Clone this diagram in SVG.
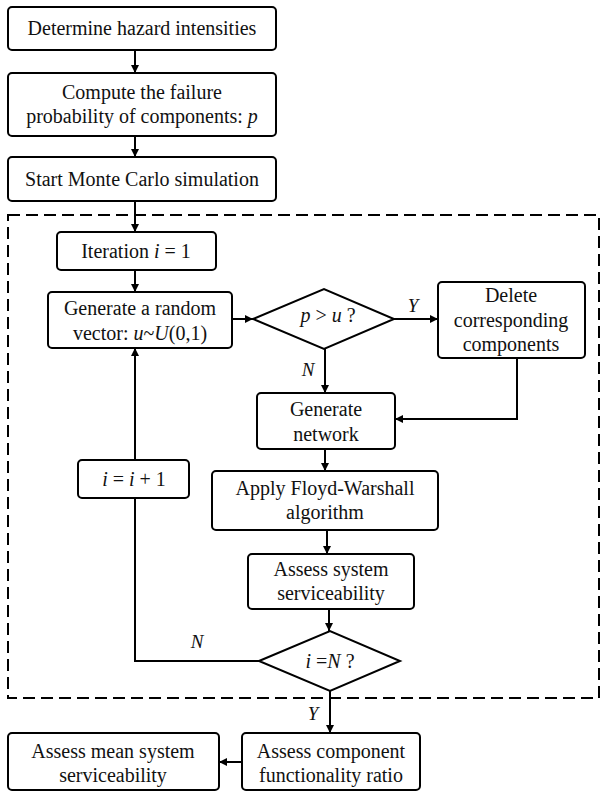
<svg xmlns="http://www.w3.org/2000/svg" width="601" height="793" viewBox="0 0 601 793" font-family="'Liberation Serif', 'DejaVu Serif', serif">
<defs>
<marker id="ah" viewBox="0 0 10 10" refX="10" refY="5" markerWidth="8" markerHeight="8" markerUnits="userSpaceOnUse" orient="auto">
<path d="M0,0 L10,5 L0,10 z" fill="#000"/>
</marker>
<style>
.b{fill:#fff;stroke:#000;stroke-width:2}
.t{font-family:'Liberation Serif','DejaVu Serif',serif;font-size:20px;fill:#111;text-anchor:middle}
.m{font-style:italic}
.l{font-family:'Liberation Serif','DejaVu Serif',serif;font-size:19px;font-style:italic;fill:#111;text-anchor:middle}
.c{fill:none;stroke:#000;stroke-width:2}
.a{marker-end:url(#ah)}
.d{fill:none;stroke:#000;stroke-width:2;stroke-dasharray:12,6}
</style>
</defs>
<rect class="d" x="8" y="215" width="591" height="483"/>
<g id="connectors">
<path class="c a" d="M135,50 V73"/>
<path class="c a" d="M135,136 V157"/>
<path class="c a" d="M135,201 V232"/>
<path class="c a" d="M135,270 V292"/>
<path class="c a" d="M232,319 H253"/>
<path class="c a" d="M394,319 H438"/>
<path class="c a" d="M325,349 V393"/>
<path class="c a" d="M517,358 V419 H395"/>
<path class="c a" d="M325,449 V471"/>
<path class="c a" d="M327,530 V554"/>
<path class="c a" d="M329,609 V631"/>
<path class="c" d="M259,661 H135 V498"/>
<path class="c a" d="M135,460 V348"/>
<path class="c a" d="M330,691 V733"/>
<path class="c a" d="M242,762 H219"/>
<text class="l" x="413" y="312">Y</text>
<text class="l" x="308" y="376">N</text>
<text class="l" x="197" y="648">N</text>
<text class="l" x="313" y="720">Y</text>
</g>
<g id="hazard">
<rect class="b" x="8" y="7" width="268" height="43" rx="4"/>
<text class="t" x="142" y="35">Determine hazard intensities</text>
</g>
<g id="failure">
<rect class="b" x="8" y="73" width="268" height="63" rx="4"/>
<text class="t" x="142" y="99">Compute the failure</text>
<text class="t" x="142" y="123">probability of components: <tspan class="m">p</tspan></text>
</g>
<g id="montecarlo">
<rect class="b" x="8" y="157" width="268" height="44" rx="4"/>
<text class="t" x="142" y="186">Start Monte Carlo simulation</text>
</g>
<g id="iteration">
<rect class="b" x="57" y="232" width="159" height="38" rx="4"/>
<text class="t" x="136" y="258">Iteration <tspan class="m">i</tspan> = 1</text>
</g>
<g id="random">
<rect class="b" x="48" y="292" width="184" height="56" rx="4"/>
<text class="t" x="140" y="315">Generate a random</text>
<text class="t" x="140" y="340">vector: <tspan class="m">u</tspan>~<tspan class="m">U</tspan>(0,1)</text>
</g>
<g id="decision1">
<polygon class="b" points="253,319 324,289 394,319 324,349"/>
<text class="t" x="328" y="322"><tspan class="m">p</tspan> &gt; <tspan class="m">u</tspan> ?</text>
</g>
<g id="delete">
<rect class="b" x="438" y="282" width="147" height="76" rx="4"/>
<text class="t" x="511" y="302">Delete</text>
<text class="t" x="511" y="327">corresponding</text>
<text class="t" x="511" y="351">components</text>
</g>
<g id="network">
<rect class="b" x="257" y="393" width="138" height="56" rx="4"/>
<text class="t" x="326" y="416">Generate</text>
<text class="t" x="326" y="441">network</text>
</g>
<g id="floyd">
<rect class="b" x="212" y="471" width="226" height="59" rx="4"/>
<text class="t" x="325" y="495">Apply Floyd-Warshall</text>
<text class="t" x="325" y="519">algorithm</text>
</g>
<g id="assess">
<rect class="b" x="248" y="554" width="166" height="55" rx="4"/>
<text class="t" x="331" y="576">Assess system</text>
<text class="t" x="331" y="600">serviceability</text>
</g>
<g id="decision2">
<polygon class="b" points="259,661 330,631 400,661 330,691"/>
<text class="t" x="330" y="668"><tspan class="m">i</tspan> =<tspan class="m">N</tspan> ?</text>
</g>
<g id="increment">
<rect class="b" x="78" y="460" width="111" height="38" rx="4"/>
<text class="t" x="134" y="486"><tspan class="m">i</tspan> = <tspan class="m">i</tspan> + 1</text>
</g>
<g id="component">
<rect class="b" x="242" y="733" width="178" height="57" rx="4"/>
<text class="t" x="331" y="758">Assess component</text>
<text class="t" x="331" y="782">functionality ratio</text>
</g>
<g id="mean">
<rect class="b" x="8" y="733" width="211" height="57" rx="4"/>
<text class="t" x="113" y="758">Assess mean system</text>
<text class="t" x="113" y="782">serviceability</text>
</g>
</svg>
